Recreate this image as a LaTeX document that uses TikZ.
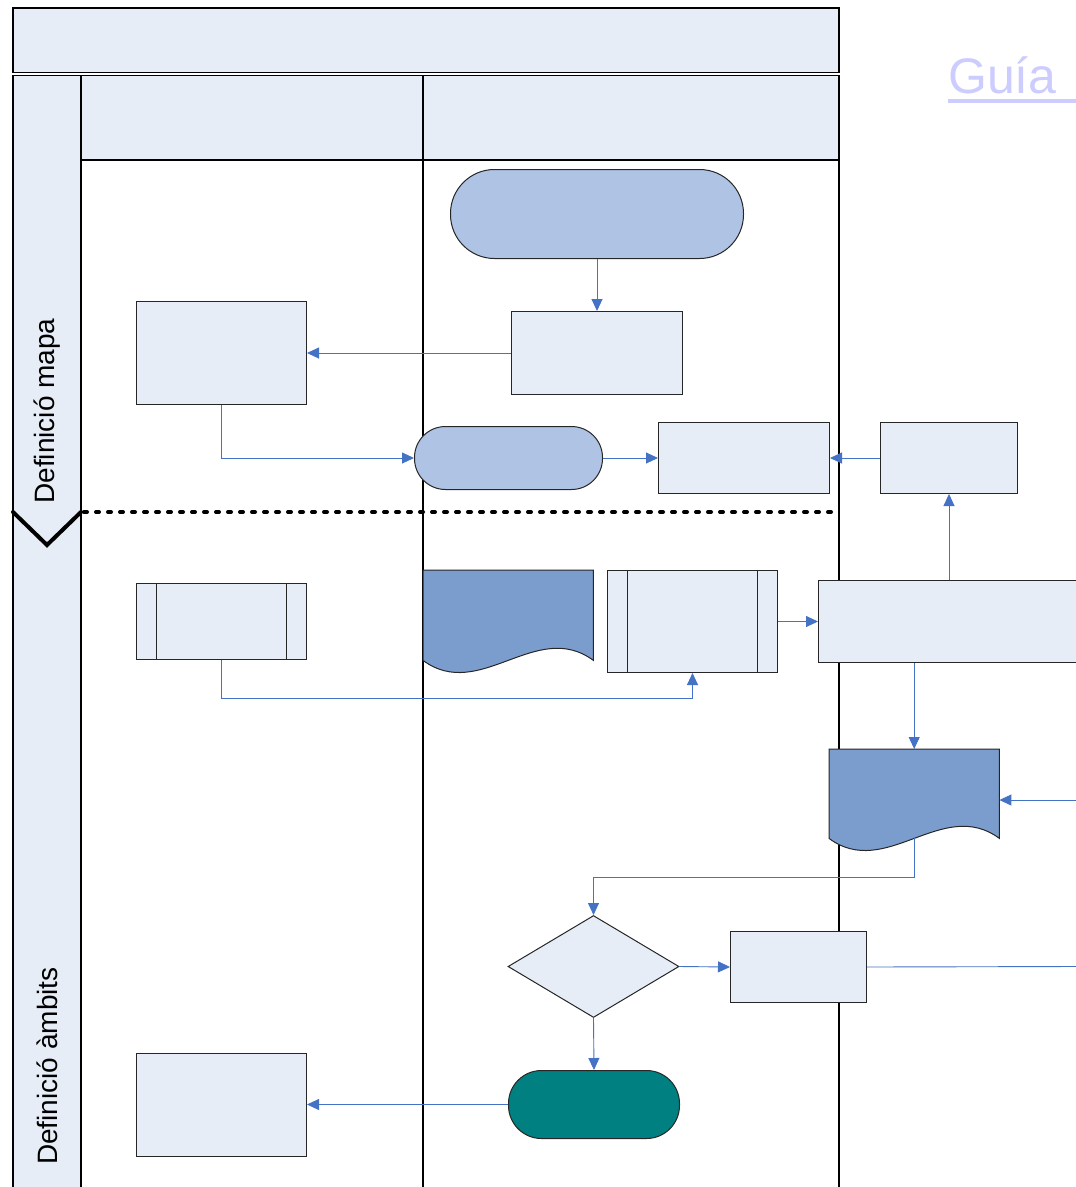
\documentclass[tikz,border=0pt]{standalone}
\usepackage{fontspec}
\setmainfont{Liberation Sans}
\usetikzlibrary{arrows.meta,shapes.geometric,calc}
\definecolor{lanebg}{RGB}{230,237,247}
\definecolor{termbg}{RGB}{175,195,228}
\definecolor{docbg}{RGB}{123,157,205}
\definecolor{endbg}{RGB}{0,128,128}
\definecolor{flow}{RGB}{68,114,196}
\definecolor{guia}{RGB}{204,204,255}
\begin{document}
\begin{tikzpicture}[x=1pt,y=-1pt,
    lanebox/.style={draw=black,line width=1.5pt,fill=lanebg},
    task/.style={draw=black!85,line width=1pt,fill=lanebg,inner sep=0pt,anchor=north west},
    term/.style={task,fill=termbg},
    doc/.style={inner sep=0pt,anchor=north west},
    flowline/.style={draw=flow,line width=0.9pt},
    flowarrow/.style={flowline,-{Triangle[length=12pt,width=11pt]}},
    lanelabel/.style={rotate=90,font=\fontsize{28}{34}\selectfont}]
  \useasboundingbox (0,0) rectangle (1076,1187);
  \draw[lanebox] (13,8) rectangle (839,72.5);
  \draw[lanebox] (13,75.5) rectangle (81,1195);
  \draw[lanebox] (81,75.5) rectangle (423,160);
  \draw[lanebox] (423,75.5) rectangle (839,160);
  \draw[black,line width=1.5pt] (423,160) -- (423,1195) (839,160) -- (839,1195);
  \node[lanelabel] (mapa) at (47,411) {Definició mapa};
  \node[lanelabel] (ambits) at (47,1066) {Definició àmbits};
  \draw[line width=4pt,dash pattern=on 3pt off 9pt,line cap=round] (84,512) -- (839,512);
  \draw[line width=4pt,line cap=round] (13,512) -- (47,545) -- (81,512);
  \node[anchor=base west,text=guia,font=\fontsize{50}{60}\selectfont,inner sep=0pt] (guia) at (948,93) {Guía};
  \draw[guia,line width=3.5pt] (948,101) -- (1076,101);

  \node[term,minimum width=293pt,minimum height=89pt,rounded corners=44pt] (inici) at (450,169) {};
  \node[task,minimum width=171pt,minimum height=83pt] (t1) at (511,311) {};
  \node[task,minimum width=170pt,minimum height=103pt] (l1) at (136,301) {};
  \node[term,minimum width=188pt,minimum height=63pt,rounded corners=31pt] (term2) at (414,426) {};
  \node[task,minimum width=171pt,minimum height=71pt] (a2) at (658,422) {};
  \node[task,minimum width=137pt,minimum height=71pt] (r1) at (880,422) {};
  \node[task,minimum width=300pt,minimum height=82pt] (r2) at (818,580) {};
  \node[task,minimum width=170pt,minimum height=76pt] (l2) at (136,583) {};
  \node[task,minimum width=170pt,minimum height=102pt] (p1) at (607,570) {};
  \node[doc,minimum width=170pt,minimum height=90pt] (d1) at (423,570) {};
  \node[doc,minimum width=170pt,minimum height=89pt] (d2) at (829,749) {};
  \node[draw=black!85,line width=1pt,fill=lanebg,diamond,minimum width=171pt,minimum height=102pt,inner sep=0pt] (dia) at (593.5,966.5) {};
  \node[task,minimum width=136pt,minimum height=71pt] (b) at (730,931) {};
  \node[term,fill=endbg,minimum width=171pt,minimum height=68pt,rounded corners=33pt] (term3) at (508,1070) {};
  \node[task,minimum width=170pt,minimum height=103pt] (l3) at (136,1052.5) {};

  \foreach \n in {d1,d2} {
    \draw[draw=black!85,line width=1pt,fill=docbg] (\n.south west) -- (\n.north west) -- (\n.north east) -- (\n.south east)
      .. controls ($(\n.south east)+(-57,-42)$) and ($(\n.south west)+(57,42)$) .. (\n.south west) -- cycle;
  }
  \foreach \n in {l2,p1} {
    \draw[black!85,line width=1pt] ([xshift=20.5pt]\n.north west) -- ([xshift=20.5pt]\n.south west)
      ([xshift=-20.5pt]\n.north east) -- ([xshift=-20.5pt]\n.south east);
  }

  \draw[flowarrow] (inici.south) -- (t1.north);
  \draw[flowarrow] (t1.west) -- (l1.east);
  \draw[flowarrow] (l1.south) |- (term2.west);
  \draw[flowarrow] (term2.east) -- (a2.west);
  \draw[flowarrow] (r1.west) -- (a2.east);
  \draw[flowarrow] (r1.south |- r2.north) -- (r1.south);
  \draw[flowarrow] (p1.east) -- (r2.west);
  \draw[flowarrow] (l2.south) -- ++(0,38) -| (p1.south);
  \draw[flowarrow] (d2.north |- r2.south) -- (d2.north);
  \coordinate (entrada) at (1076,800);
  \draw[flowarrow] (entrada) -- (entrada -| d2.east);
  \draw[flowarrow] (d2.south) -- ++(0,39) -| (dia.north);
  \draw[flowarrow] (dia.east) -- (b.west);
  \coordinate (sortida) at (1076,966.5);
  \draw[flowline] (b.east) -- (sortida);
  \draw[flowarrow] (dia.south) -- (term3.north);
  \draw[flowarrow] (term3.west) -- (l3.east);
\end{tikzpicture}
\end{document}
